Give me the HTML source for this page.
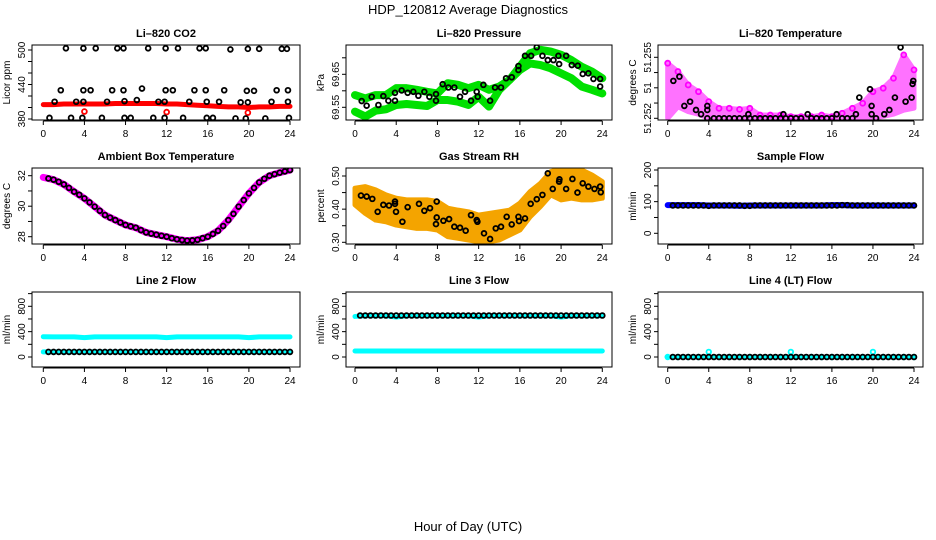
<!DOCTYPE html>
<html><head><meta charset="utf-8">
<style>
html,body{margin:0;padding:0;background:#fff;}
svg{display:block;font-family:"Liberation Sans",sans-serif;}
</style></head>
<body>
<svg id="chart" width="936" height="540" viewBox="0 0 936 540">
<text x="468" y="14" text-anchor="middle" font-size="13">HDP_120812  Average Diagnostics</text>
<text x="468" y="531" text-anchor="middle" font-size="13">Hour of Day (UTC)</text>
</svg>
<script>
// ---- shared categories ----
const hours = [0,1,2,3,4,5,6,7,8,9,10,11,12,13,14,15,16,17,18,19,20,21,22,23,24];
const halfHours = [0.5,1,1.5,2,2.5,3,3.5,4,4.5,5,5.5,6,6.5,7,7.5,8,8.5,9,9.5,10,10.5,11,11.5,12,12.5,13,13.5,14,14.5,15,15.5,16,16.5,17,17.5,18,18.5,19,19.5,20,20.5,21,21.5,22,22.5,23,23.5,24];
const xTicks = [0,4,8,12,16,20,24];

// ---- Li-820 CO2 ----
const co2Red = [405,405,406,406,406,406,406,407,407,407,407,407,406,406,405,404,403,402,401,401,400,401,401,402,402];
const co2BlackT = [2.2,3.9,5.1,7.2,7.8,10.2,11.9,13.1,15.2,15.8,18.2,19.9,21.0,23.2,23.7, 1.7,3.9,4.6,6.7,7.8,9.6,11.9,12.6,14.7,15.8,17.6,19.8,20.5,22.7,23.8, 1.1,3.2,3.9,6.2,7.9,9.1,11.2,11.8,14.2,15.9,17.1,19.2,19.9,22.2,23.8, 0.6,2.7,3.8,5.7,7.9,8.5,10.7,11.8,13.6,15.9,16.5,18.7,19.7,21.6,23.9];
const co2BlackV = [503,503,503,503,503,503,503,503,503,503,501,502,502,502,502, 430,430,430,430,430,433,430,430,430,430,430,429,429,430,430, 410,410,410,410,411,413,410,410,410,410,410,409,409,410,410, 382,382,382,382,382,382,382,382,382,382,382,381,381,381,382];
const co2RedPtT = [4.0,12.0,19.9];
const co2RedPtV = [393,392,391];
const co2Ticks = [380,400,420,440,460,480,500];
const co2Labels = ["380","","","440","","","500"];

// ---- Li-820 Pressure ----
const presUpper = [69.587,69.577,69.587,69.587,69.608,69.608,69.603,69.597,69.592,69.623,69.618,69.608,69.618,69.603,69.613,69.633,69.673,69.714,69.724,69.719,69.709,69.693,69.673,69.658,69.638];
const presLower = [69.537,69.522,69.540,69.544,69.557,69.560,69.557,69.554,69.572,69.572,69.567,69.557,69.582,69.552,69.603,69.633,69.663,69.683,69.678,69.668,69.653,69.638,69.613,69.603,69.592];
const presBlackT = [0.65,1.13,1.62,2.27,2.75,3.24,3.88,3.88,4.53,5.11,5.66,6.15,6.73,7.22,7.86,7.86,8.51,9.06,9.64,10.19,10.68,11.26,11.81,11.91,12.46,13.11,13.59,14.17,14.66,15.21,15.86,15.86,16.5,17.09,17.64,18.19,18.71,19.26,19.74,19.81,20.49,21.04,21.62,22.1,22.65,23.14,23.79,23.79];
const presBlackV = [69.569,69.555,69.582,69.557,69.584,69.570,69.594,69.570,69.601,69.594,69.597,69.585,69.597,69.582,69.590,69.570,69.620,69.610,69.610,69.582,69.597,69.570,69.597,69.582,69.618,69.570,69.610,69.610,69.638,69.641,69.675,69.663,69.706,69.706,69.732,69.706,69.693,69.693,69.706,69.681,69.706,69.678,69.676,69.651,69.653,69.636,69.636,69.613];
const presTicks = [69.55,69.60,69.65,69.70];
const presLabels = ["69.55","","69.65",""];

// ---- Li-820 Temperature ----
const tempHi = [51.25471,51.25430,51.25364,51.25331,51.25282,51.25249,51.25249,51.25244,51.25249,51.25216,51.25216,51.25216,51.25208,51.25208,51.25208,51.25216,51.25208,51.25225,51.25249,51.25274,51.25331,51.25348,51.25397,51.25512,51.25438];
const tempLo = [51.25200,51.25257,51.25233,51.25220,51.25200,51.25200,51.25200,51.25200,51.25200,51.25200,51.25200,51.25200,51.25200,51.25200,51.25200,51.25200,51.25200,51.25200,51.25200,51.25200,51.25200,51.25210,51.25220,51.25240,51.25250];
const tempBlackT = [0.55,1.14,1.62,2.18,2.76,3.25,3.86,3.86,3.86,4.5,5,5.5,6,6.5,7,7.5,7.86,8,8.5,9,9.5,10,10.5,11,11.27,11.5,12,12.5,13,13.64,14,14.5,15,15.5,16,16.46,17,17.5,18,18.34,18.67,19.71,19.87,19.87,20.3,21.1,21.6,22.14,22.69,23.18,23.77,23.86,23.93];
const tempBlackV = [51.25384,51.25405,51.25261,51.25282,51.25241,51.25220,51.25261,51.25241,51.25200,51.25200,51.25200,51.25200,51.25200,51.25200,51.25200,51.25200,51.25220,51.25200,51.25200,51.25200,51.25200,51.25200,51.25200,51.25200,51.25220,51.25200,51.25200,51.25200,51.25200,51.25220,51.25200,51.25200,51.25200,51.25200,51.25200,51.25220,51.25200,51.25200,51.25200,51.25220,51.25302,51.25343,51.25261,51.25220,51.25200,51.25220,51.25241,51.25302,51.25549,51.25282,51.25302,51.25369,51.25384];
const tempTicks = [51.252,51.25275,51.2535,51.25425,51.255];
const tempLabels = ["51.252","","51","","51.255"];

// ---- Ambient Box Temperature ----
const ambMag = [31.89,31.74,31.43,30.95,30.51,29.97,29.42,29.09,28.77,28.59,28.28,28.13,28.00,27.83,27.74,27.80,28.00,28.39,29.09,29.97,30.84,31.56,32.00,32.20,32.37];
const ambBlack = [31.82,31.74,31.60,31.43,31.20,30.95,30.75,30.51,30.25,29.97,29.70,29.42,29.25,29.09,28.93,28.77,28.68,28.59,28.43,28.28,28.20,28.13,28.06,28.00,27.90,27.83,27.78,27.74,27.76,27.80,27.90,28.00,28.18,28.39,28.70,29.09,29.50,29.97,30.40,30.84,31.20,31.56,31.80,32.00,32.10,32.20,32.28,32.37];
const ambTicks = [28,29,30,31,32];
const ambLabels = ["28","","30","","32"];

// ---- Gas Stream RH ----
const rhHi = [0.463,0.468,0.458,0.443,0.433,0.428,0.428,0.428,0.423,0.403,0.397,0.392,0.382,0.387,0.392,0.397,0.418,0.453,0.478,0.513,0.523,0.518,0.518,0.503,0.483];
const rhLo = [0.413,0.387,0.367,0.362,0.352,0.347,0.342,0.342,0.337,0.317,0.312,0.307,0.302,0.302,0.307,0.322,0.337,0.377,0.408,0.443,0.428,0.433,0.428,0.428,0.433];
const rhBlackT = [0.58,1.13,1.68,2.2,2.75,3.3,3.88,3.88,3.98,4.6,5.11,6.21,6.73,7.28,7.86,7.93,7.93,8.58,9.13,9.64,10.19,10.74,11.26,11.81,11.88,12.52,13.11,13.66,14.17,14.72,15.21,15.86,15.92,16.5,17.05,17.64,18.19,18.71,19.19,19.81,19.84,20.49,21.1,21.59,22.1,22.65,23.24,23.79,23.85];
const rhBlackV = [0.441,0.438,0.431,0.392,0.413,0.411,0.416,0.423,0.392,0.362,0.406,0.416,0.395,0.403,0.355,0.375,0.423,0.365,0.370,0.347,0.344,0.335,0.382,0.367,0.362,0.327,0.310,0.342,0.347,0.377,0.354,0.377,0.364,0.372,0.416,0.430,0.443,0.508,0.461,0.483,0.490,0.461,0.491,0.450,0.478,0.468,0.461,0.468,0.451];
const rhTicks = [0.30,0.35,0.40,0.45,0.50];
const rhLabels = ["0.30","","0.40","","0.50"];

// ---- Sample Flow ----
const sfBlue = [89,89,89,89,88,88,88,87,88,88,88,88,88,88,88,88,89,89,88,88,88,88,88,88,88];
const sfBlack = [88,88,88,88,88,88,88,87,88,88,88,88,88,88,87,87,88,88,88,88,88,88,88,88,88,88,88,88,88,88,88,88,88,89,89,88,88,88,88,88,88,88,88,88,88,88,88,88];
const sfTicks = [0,50,100,150,200];
const sfLabels = ["0","","100","","200"];

// ---- Line 2 Flow ----
const l2Cyan = [320,318,318,318,305,318,318,318,318,318,318,318,305,318,318,318,318,318,318,318,305,318,318,318,318];
const l2CyanLow = [80,80,80,80,80,80,80,80,80,80,80,80,80,80,80,80,80,80,80,80,80,80,80,80,80];
const l2Black = [80,80,80,80,80,80,80,80,80,80,80,80,80,80,80,80,80,80,80,80,80,80,80,80,80,80,80,80,80,80,80,80,80,80,80,80,80,80,80,80,80,80,80,80,80,80,80,80];

// ---- Line 3 Flow ----
const l3CyanHi = [640,650,650,650,630,650,650,650,650,650,650,650,630,650,650,650,650,650,650,650,630,650,650,650,650];
const l3CyanLo = [95,95,95,95,95,95,95,95,95,95,95,95,95,95,95,95,95,95,95,95,95,95,95,95,95];
const l3Black = [655,655,655,655,655,655,655,655,655,655,655,655,655,655,655,655,655,655,655,655,655,655,655,655,655,655,655,655,655,655,655,655,655,655,655,655,655,655,655,655,655,655,655,655,655,655,655,655];

// ---- Line 4 Flow ----
const l4Cyan = [0,0,0,0,80,0,0,0,0,0,0,0,80,0,0,0,0,0,0,0,80,0,0,0,0];
const l4Black = [0,0,0,0,0,0,0,0,0,0,0,0,0,0,0,0,0,0,0,0,0,0,0,0,0,0,0,0,0,0,0,0,0,0,0,0,0,0,0,0,0,0,0,0,0,0,0,0];
const flowTicks = [0,200,400,600,800,1000];
const flowLabels = ["0","","400","","800",""];

const NS = "http://www.w3.org/2000/svg";
const svg = document.getElementById("chart");
function mk(tag, attrs, parent) {
  const e = document.createElementNS(NS, tag);
  for (const k in attrs) e.setAttribute(k, attrs[k]);
  (parent || svg).appendChild(e);
  return e;
}
const cols = [{l:32, r:300, x0:43.3, x24:290}, {l:346, r:612, x0:355, x24:602.3}, {l:658, r:923, x0:667.7, x24:914}];
const rows = [{t:45, b:120}, {t:168, b:244}, {t:292, b:367}];

function panel(ci, ri, title, ylab, yA, pA, yB, pB, ticks, labels, name) {
  const c = cols[ci], r = rows[ri];
  const g = mk("g", {});
  
  
  const X = t => c.x0 + (c.x24 - c.x0) * t / 24;
  const Y = v => pA + (pB - pA) * (v - yA) / (yB - yA);
  const tt = mk("text", {x:(c.l + c.r) / 2, y:r.t - 8, "text-anchor":"middle", "font-size":"11", "font-weight":"bold"}, g);
  tt.textContent = title;
  
  
  const yl = mk("text", {x:0, y:0, "text-anchor":"middle", "font-size":"10", transform:`translate(${c.l - 22},${(r.t + r.b) / 2}) rotate(-90)`}, g);
  yl.textContent = ylab;
  
  
  const xa = mk("g", {stroke:"#000", "stroke-width":"1"}, g);
  
  
  mk("line", {x1:X(0), x2:X(24), y1:r.b + 1, y2:r.b + 1}, xa);
  xTicks.forEach(t => {
    mk("line", {x1:X(t), x2:X(t), y1:r.b + 1, y2:r.b + 5}, xa);
    const lb = mk("text", {x:X(t), y:r.b + 17, "text-anchor":"middle", "font-size":"10", stroke:"none"}, xa);
    lb.textContent = t;
    
    
  });
  const ya = mk("g", {stroke:"#000", "stroke-width":"1"}, g);
  
  
  mk("line", {x1:c.l, x2:c.l, y1:Y(ticks[0]), y2:Y(ticks[ticks.length - 1])}, ya);
  ticks.forEach((v, i) => {
    mk("line", {x1:c.l - 4, x2:c.l, y1:Y(v), y2:Y(v)}, ya);
    if (labels[i]) {
      const lb = mk("text", {x:0, y:0, "text-anchor":"middle", "font-size":"10", stroke:"none", transform:`translate(${c.l - 7},${Y(v)}) rotate(-90)`}, ya);
      lb.textContent = labels[i];
      
      
    }
  });
  const clipId = "clip" + ci + ri;
  const cp = mk("clipPath", {id:clipId}, g);
  mk("rect", {x:c.l, y:r.t, width:c.r - c.l, height:r.b - r.t}, cp);
  const plot = mk("g", {"clip-path":`url(#${clipId})`}, g);
  
  
  const box = mk("rect", {x:c.l, y:r.t, width:c.r - c.l, height:r.b - r.t, fill:"none", stroke:"#000", "stroke-width":"1"}, g);
  
  
  return {plot, X, Y};
}
function line(p, ts, vs, color, w, nm) {
  const pl = mk("polyline", {points: ts.map((t, i) => p.X(t) + "," + p.Y(vs[i])).join(" "), fill:"none", stroke:color, "stroke-width":w, "stroke-linejoin":"round", "stroke-linecap":"round"}, p.plot);
  
  
}
function band(p, ts, lo, hi, color, nm, op) {
  const pts = ts.map((t, i) => p.X(t) + "," + p.Y(hi[i])).concat(ts.slice().reverse().map((t, j) => p.X(t) + "," + p.Y(lo[ts.length - 1 - j])));
  const pg = mk("polygon", {points: pts.join(" "), fill:color, stroke:color, "stroke-width":"5", "stroke-linejoin":"round", opacity:op || 1}, p.plot);
  
  
}
function dots(p, ts, vs, color, nm, r, sw) {
  const g = mk("g", {fill:"none", stroke:color, "stroke-width":sw || 1.8}, p.plot);
  
  
  ts.forEach((t, i) => {
    const c = mk("circle", {cx:p.X(t), cy:p.Y(vs[i]), r:r || 2.4}, g);
    
    
  });
}

let p = panel(0, 0, "Li\u2013820 CO2", "Licor ppm", 380, 119, 500, 50, co2Ticks, co2Labels, "co2");
line(p, hours, co2Red, "#ff0000", 5, "co2-red-series");
dots(p, co2RedPtT, co2RedPtV, "#ff0000", "co2-red-outliers");
dots(p, co2BlackT, co2BlackV, "#000", "co2-black-series");

p = panel(1, 0, "Li\u2013820 Pressure", "kPa", 69.55, 107.3, 69.65, 74.3, presTicks, presLabels, "pressure");
line(p, hours, presUpper, "#00e000", 8, "pressure-green-upper");
line(p, hours, presLower, "#00e000", 8, "pressure-green-lower");
dots(p, presBlackT, presBlackV, "#000", "pressure-black-series");

p = panel(2, 0, "Li\u2013820 Temperature", "degrees C", 51.252, 118.3, 51.255, 57.3, tempTicks, tempLabels, "li820-temp");
band(p, hours, tempLo, tempHi, "#ff00ff", "li820-temp-magenta-band", 0.55);
dots(p, hours, tempHi, "#ff00ff", "li820-temp-magenta-peaks", 2.5, 1.8);
dots(p, tempBlackT, tempBlackV, "#000", "li820-temp-black-series");

p = panel(0, 1, "Ambient Box Temperature", "degrees C", 32, 175.7, 28, 236.7, ambTicks, ambLabels, "ambient");
line(p, hours, ambMag, "#ff00ff", 7, "ambient-magenta-series");
dots(p, halfHours, ambBlack, "#000", "ambient-black-series");

p = panel(1, 1, "Gas Stream RH", "percent", 0.5, 176, 0.3, 242.3, rhTicks, rhLabels, "rh");
band(p, hours, rhLo, rhHi, "#f4a400", "rh-orange-band");
dots(p, rhBlackT, rhBlackV, "#000", "rh-black-series");

p = panel(2, 1, "Sample Flow", "ml/min", 200, 170, 0, 233.3, sfTicks, sfLabels, "sample-flow");
line(p, hours, sfBlue, "#0000ff", 6, "sample-flow-blue-series");
dots(p, halfHours, sfBlack, "#000", "sample-flow-black-series");

p = panel(0, 2, "Line 2 Flow", "ml/min", 0, 357, 800, 306.3, flowTicks, flowLabels, "line2");
line(p, hours, l2Cyan, "#00ffff", 5, "line2-cyan-upper");
line(p, hours, l2CyanLow, "#00ffff", 5, "line2-cyan-lower");
dots(p, halfHours, l2Black, "#000", "line2-black-series");

p = panel(1, 2, "Line 3 Flow", "ml/min", 0, 357, 800, 306.3, flowTicks, flowLabels, "line3");
line(p, hours, l3CyanHi, "#00ffff", 5, "line3-cyan-upper");
line(p, hours, l3CyanLo, "#00ffff", 5, "line3-cyan-lower");
dots(p, halfHours, l3Black, "#000", "line3-black-series");

p = panel(2, 2, "Line 4 (LT) Flow", "ml/min", 0, 357, 800, 306.3, flowTicks, flowLabels, "line4");
line(p, hours, l4Cyan.map(() => 0), "#00ffff", 4, "line4-cyan-base");
dots(p, hours, l4Cyan, "#00ffff", "line4-cyan-series", 2.3, 1.8);
dots(p, halfHours, l4Black, "#000", "line4-black-series");
</script>
</body></html>
